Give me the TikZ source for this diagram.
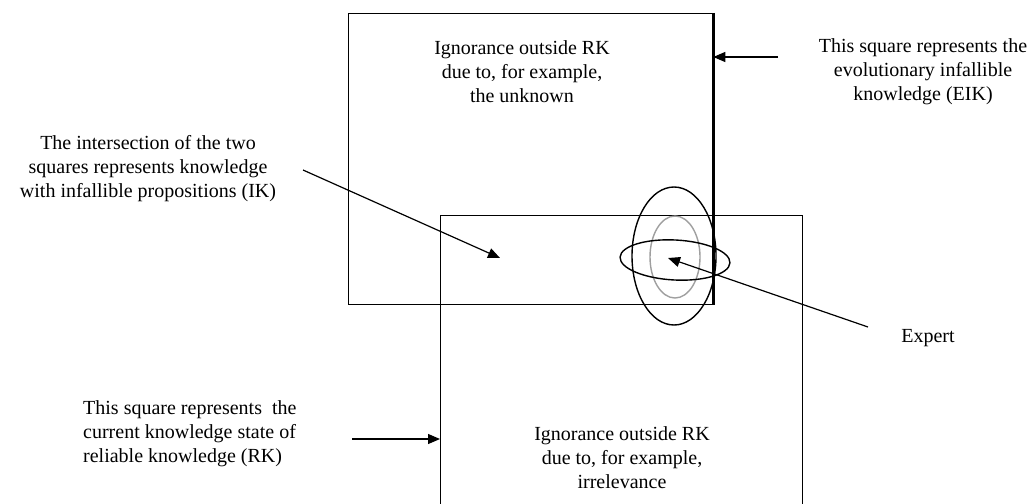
\documentclass[tikz,border=0pt]{standalone}
\usepackage{fontspec}
\setmainfont{Liberation Serif}
\usetikzlibrary{arrows.meta}
\begin{document}
\begin{tikzpicture}[x=1pt,y=-1pt,
  txt/.style={font=\fontsize{20}{24}\selectfont, inner sep=0pt, align=center},
  sq/.style={draw=black, line width=1.3pt, inner sep=0pt, anchor=north west},
  ptr/.style={line width=1.2pt, -{Triangle[length=12pt,width=10pt]}},
  ell/.style={line width=1.4pt}]
\path[use as bounding box, clip] (0,0) rectangle (1032,503);
\fill[white] (0,0) rectangle (1032,503);
% squares
\node[sq, minimum width=364pt, minimum height=291pt] (eik) at (348,13) {};
\draw[line width=2.4pt] (eik.north east) -- (eik.south east);
\node[sq, minimum width=362pt, minimum height=330pt] (rk) at (440,215) {};
% texts inside squares
\node[txt] (eiktxt) at (522,72) {Ignorance outside RK\\due to, for example,\\the unknown};
\node[txt] (rktxt) at (622,458) {Ignorance outside RK\\due to, for example,\\irrelevance};
% expert ellipses
\draw[ell] (674,256) ellipse [x radius=42, y radius=69];
\draw[ell, gray!75] (675,257) ellipse [x radius=25, y radius=41];
\draw[ell, rotate around={-3:(675,260)}] (675,260) ellipse [x radius=55, y radius=20];
\coordinate (expertpt) at (668,258);
% labels
\node[txt] (eiklab) at (923,72) {This square represents the\\evolutionary infallible\\knowledge (EIK)};
\node[txt] (iklab) at (148,169) {The intersection of the two\\squares represents knowledge\\with infallible propositions (IK)};
\node[txt, align=left, anchor=west] (rklab) at (83,434) {This square represents\ \ the\\current knowledge state of\\reliable knowledge (RK)};
\node[txt] (explab) at (928,338) {Expert};
% connectors
\coordinate (eiktail) at (778,57);
\coordinate (iktail) at (303,170);
\coordinate (iktip) at (500,258);
\coordinate (rktail) at (352,439);
\coordinate (exptail) at (868,327);
\draw[ptr] (eiktail) -- (eik.east |- eiktail);
\draw[ptr] (iktail) -- (iktip);
\draw[ptr] (rktail) -- (rk.west |- rktail);
\draw[ptr] (exptail) -- (expertpt);
\end{tikzpicture}
\end{document}
